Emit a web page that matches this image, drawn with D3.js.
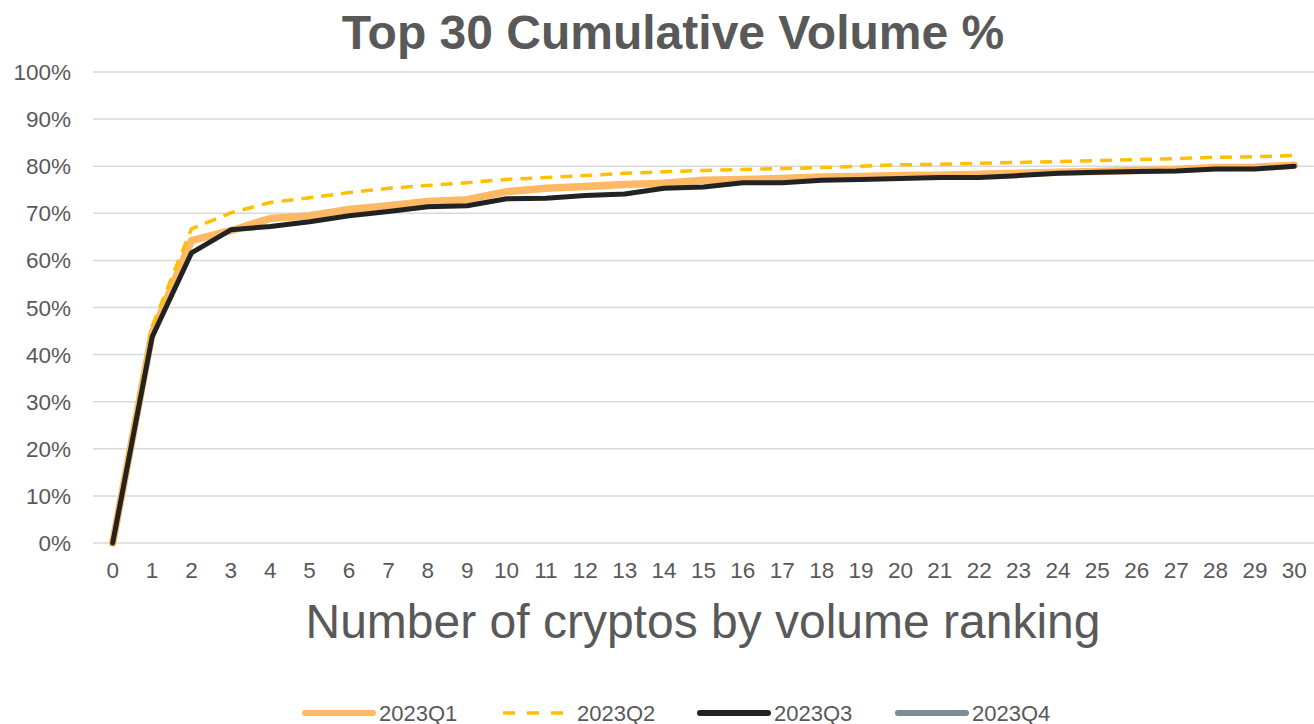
<meta charset="utf-8">
<title>Top 30 Cumulative Volume %</title>
<style>
  body { margin: 0; background: #fff; }
  svg text { font-family: "Liberation Sans", Arial, sans-serif; fill: #595959; }
</style>
<body>
<script src="https://cdn.jsdelivr.net/npm/d3@7"></script>
<script>
// ranks 0..30
var ranks = d3.range(0, 31);
var q1 = [0, 44.5, 64.2, 66.3, 68.9, 69.5, 70.8, 71.6, 72.5, 72.9, 74.6, 75.3, 75.7, 76.1, 76.4, 77.0,
          77.2, 77.4, 77.7, 77.8, 78.0, 78.1, 78.3, 78.5, 78.7, 78.9, 79.1, 79.3, 79.7, 79.8, 80.2];
var q2 = [0, 46.0, 66.7, 70.1, 72.3, 73.3, 74.4, 75.3, 75.9, 76.5, 77.2, 77.6, 78.0, 78.5, 78.8, 79.1,
          79.3, 79.5, 79.7, 80.0, 80.3, 80.4, 80.6, 80.8, 81.0, 81.2, 81.4, 81.6, 81.9, 82.0, 82.3];
var q3 = [0, 43.7, 61.6, 66.5, 67.2, 68.2, 69.5, 70.4, 71.4, 71.6, 73.1, 73.2, 73.8, 74.1, 75.3, 75.6,
          76.5, 76.5, 77.0, 77.2, 77.4, 77.6, 77.6, 78.0, 78.5, 78.7, 78.9, 79.0, 79.4, 79.4, 80.0];
var q4 = []; // no data, legend only
var seriesNames = ['2023Q1', '2023Q2', '2023Q3', '2023Q4'];
var yTicks = [0, 10, 20, 30, 40, 50, 60, 70, 80, 90, 100];

var width = 1314, height = 724;
var margin = {left: 93, right: 0, top: 72, bottom: 183};

var series = [
  {name: seriesNames[0], values: q1, color: '#FFB965', w: 7.5, dash: null},
  {name: seriesNames[1], values: q2, color: '#FFC000', w: 3.5, dash: '12,8'},
  {name: seriesNames[2], values: q3, color: '#222222', w: 5, dash: null},
  {name: seriesNames[3], values: q4, color: '#7B8D97', w: 5, dash: null}
];

var svg = d3.select('body').append('svg')
  .attr('width', width)
  .attr('height', height);

var x = d3.scalePoint()
  .domain(ranks)
  .range([margin.left, width - margin.right])
  .padding(0.5);

var y = d3.scaleLinear()
  .domain([0, 100])
  .range([height - margin.bottom + 2, margin.top]);

// gridlines
svg.append('g')
  .selectAll('line')
  .data(yTicks)
  .enter().append('line')
    .attr('x1', margin.left)
    .attr('x2', width - margin.right)
    .attr('y1', function(d){ return y(d); })
    .attr('y2', function(d){ return y(d); })
    .style('stroke', '#d9d9d9')
    .style('stroke-width', 1.5);

// y labels
svg.append('g')
  .selectAll('text')
  .data(yTicks)
  .enter().append('text')
    .attr('x', 71)
    .attr('y', function(d){ return y(d) + 8; })
    .attr('text-anchor', 'end')
    .style('font-size', '22.5px')
    .text(function(d){ return d + '%'; });

// x labels
svg.append('g')
  .selectAll('text')
  .data(ranks)
  .enter().append('text')
    .attr('x', function(d){ return x(d); })
    .attr('y', 578)
    .attr('text-anchor', 'middle')
    .style('font-size', '22.5px')
    .text(function(d){ return d; });

var line = d3.line()
  .x(function(d, i){ return x(ranks[i]); })
  .y(function(d){ return y(d); });

series.forEach(function(s){
  if (!s.values.length) return;
  svg.append('path')
    .datum(s.values)
    .attr('d', line)
    .style('fill', 'none')
    .style('stroke', s.color)
    .style('stroke-width', s.w)
    .style('stroke-linejoin', 'round')
    .style('stroke-linecap', s.dash ? 'butt' : 'round')
    .style('stroke-dasharray', s.dash);
});

// title
svg.append('text')
  .attr('x', 673)
  .attr('y', 49)
  .attr('text-anchor', 'middle')
  .style('font-size', '48px')
  .style('font-weight', 'bold')
  .text('Top 30 Cumulative Volume %');

// axis title
svg.append('text')
  .attr('x', 703)
  .attr('y', 638)
  .attr('text-anchor', 'middle')
  .style('font-size', '48px')
  .text('Number of cryptos by volume ranking');

// legend
var legendX = [302, 500, 697, 895];
series.forEach(function(s, i){
  var g = svg.append('g').attr('transform', 'translate(' + legendX[i] + ',713)');
  g.append('line')
    .attr('x1', 3).attr('x2', 71)
    .attr('y1', 0).attr('y2', 0)
    .style('stroke', s.color)
    .style('stroke-width', s.dash ? 3.5 : 6)
    .style('stroke-linecap', s.dash ? 'butt' : 'round')
    .style('stroke-dasharray', s.dash ? '12,12' : null);
  g.append('text')
    .attr('x', 77)
    .attr('y', 8)
    .style('font-size', '22px')
    .text(s.name);
});
</script>
</body>
